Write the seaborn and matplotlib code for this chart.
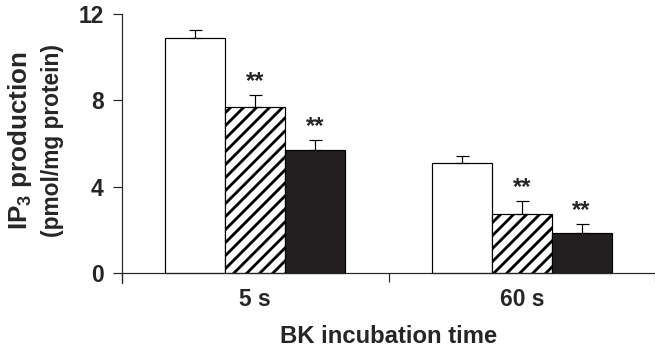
import numpy as np
import pandas as pd
import matplotlib
matplotlib.use("Agg")
import matplotlib.pyplot as plt
import seaborn as sns

# values
times = ["5 s", "60 s"]
groups = ["Control", "Treatment 1", "Treatment 2"]
ip3_5s = [10.9, 7.7, 5.7]
ip3_60s = [5.1, 2.75, 1.85]
sem_5s = [0.35, 0.55, 0.45]
sem_60s = [0.3, 0.6, 0.43]
stars_5s = ["", "**", "**"]
stars_60s = ["", "**", "**"]

df = pd.DataFrame({
    "time": [times[0]] * 3 + [times[1]] * 3,
    "group": groups * 2,
    "ip3": ip3_5s + ip3_60s,
})
errs = [sem_5s, sem_60s]
stars = [stars_5s, stars_60s]

sns.set_style("ticks")
plt.rcParams["font.family"] = ["Liberation Sans", "DejaVu Sans"]
plt.rcParams["font.weight"] = "bold"
plt.rcParams["mathtext.fontset"] = "custom"
plt.rcParams["mathtext.default"] = "bf"
plt.rcParams["mathtext.bf"] = "Liberation Sans:bold"
plt.rcParams["hatch.linewidth"] = 2.6

DPI = 78
fig, ax = plt.subplots(figsize=(655 / DPI, 350 / DPI), dpi=DPI)
scale = (273 - 14) / 12
ybot = -0.45
fig.subplots_adjust(left=122 / 655, right=1.0,
                    bottom=1 - (273 - ybot * scale) / 350, top=1 - 14 / 350)

sns.barplot(data=df, x="time", y="ip3", hue="group", order=times,
            hue_order=groups, palette=["white", "white", "#231f20"],
            width=0.675, errorbar=None, legend=False, saturation=1,
            edgecolor="black", linewidth=1.1, ax=ax)

bar_conts = list(ax.containers)
for i, cont in enumerate(bar_conts):
    for j, bar in enumerate(cont):
        if i == 1:
            bar.set_hatch("//")
        x = bar.get_x() + bar.get_width() / 2
        h = bar.get_height()
        e = errs[j][i]
        ax.errorbar(x, h, yerr=[[0], [e]], fmt="none", ecolor="black",
                    elinewidth=1.1, capsize=6, capthick=1.1, zorder=1)
        if stars[j][i]:
            ax.text(x, h + e + 0.1, stars[j][i], ha="center", va="bottom",
                    fontsize=22, fontweight="bold")

ax.set_xlim(-0.5, 1.5)
ax.set_ylim(ybot, 12)
ax.set_yticks([0, 4, 8, 12])
ax.spines["top"].set_visible(False)
ax.spines["right"].set_visible(False)
ax.spines["bottom"].set_position(("data", 0))
ax.spines["left"].set_bounds(ybot, 12)
for s in ["bottom", "left"]:
    ax.spines[s].set_linewidth(1.1)

ax.set_xticks([-0.5, 0.5, 1.5], minor=True)
ax.tick_params(axis="x", which="major", length=0, pad=14, labelsize=21)
ax.tick_params(axis="x", which="minor", direction="out", length=8, width=1.1)
ax.tick_params(axis="y", direction="out", length=8, width=1.1, pad=9,
               labelsize=21)

ax.set_xlabel("BK incubation time", fontsize=22, fontweight="bold", labelpad=13)
ax.set_ylabel("")
fig.text(20 / 655, 1 - 141 / 350, "IP$_{3}$ production", rotation=90,
         ha="center", va="center", fontsize=24, fontweight="bold")
fig.text(53 / 655, 1 - 141 / 350, "(pmol/mg protein)", rotation=90,
         ha="center", va="center", fontsize=21, fontweight="bold")

fig.savefig("out.png", dpi=DPI)
